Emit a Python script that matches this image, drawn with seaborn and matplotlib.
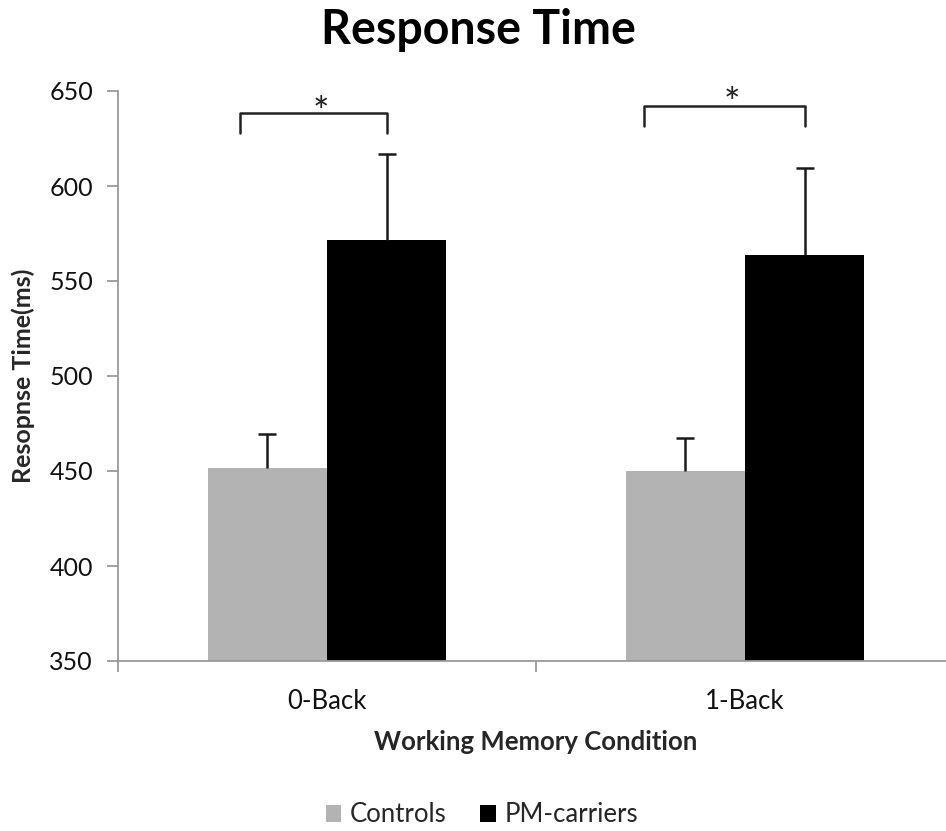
import matplotlib
matplotlib.use("Agg")
import matplotlib.pyplot as plt
import seaborn as sns
import pandas as pd
import numpy as np

conditions = ["0-Back", "1-Back"]
groups = ["Controls", "PM-carriers"]
controls_rt = [451.6, 450.0]
pm_rt = [571.6, 563.7]
controls_se = [17.9, 17.4]
pm_se = [45.2, 45.8]
group_colors = ["#b3b3b3", "#000000"]

df = pd.DataFrame({
    "Condition": conditions * 2,
    "Group": [groups[0]] * 2 + [groups[1]] * 2,
    "RT": controls_rt + pm_rt,
    "SE": controls_se + pm_se,
})

sns.set_style("white")
plt.rcParams["font.family"] = ["Lato", "DejaVu Sans"]

fig = plt.figure(figsize=(9.46, 8.31), dpi=100)
ax = fig.add_axes([118 / 946, 1 - 661 / 831, 836 / 946, 570 / 831])

sns.barplot(data=df, x="Condition", y="RT", hue="Group", hue_order=groups,
            order=conditions, palette=group_colors, width=0.57,
            errorbar=None, linewidth=0, ax=ax)

# upper-only error bars placed at the bar centres
for container, grp in zip(ax.containers, groups):
    sub = df[df["Group"] == grp].set_index("Condition").loc[conditions]
    xs = [p.get_x() + p.get_width() / 2 for p in container.patches]
    eb = ax.errorbar(xs, sub["RT"].values,
                     yerr=[np.zeros(len(xs)), sub["SE"].values],
                     fmt="none", ecolor="#1a1a1a", elinewidth=1.8,
                     capsize=6.5, capthick=1.8)
    # hide the lower caps (sitting on the bar tops)
    caps = eb.lines[1]
    if len(caps) >= 1:
        caps[0].set_visible(False)

ax.set_ylim(350, 650)
ax.set_xlim(-0.5, 1.5)
ax.set_yticks(np.arange(350, 651, 50))

spine_col = "#9a9a9a"
for s in ["top", "right"]:
    ax.spines[s].set_visible(False)
for s in ["left", "bottom"]:
    ax.spines[s].set_color(spine_col)
    ax.spines[s].set_linewidth(1.3)

ax.tick_params(axis="y", which="major", left=True, length=8, width=1.3,
               color=spine_col, labelsize=18, pad=10, labelcolor="#111111")
ax.tick_params(axis="x", which="major", bottom=False, length=0,
               labelsize=18.5, pad=20, labelcolor="#111111")
ax.set_xticks([-0.5, 0.5, 1.5], minor=True)
ax.tick_params(axis="x", which="minor", bottom=True, length=8, width=1.3,
               color=spine_col)

ax.set_xlabel("Working Memory Condition", fontsize=18.5, fontweight="bold",
              labelpad=12)
ax.set_ylabel("Resopnse Time(ms)", fontsize=18, fontweight="bold",
              labelpad=10)

fig.text(478 / 946, 1 - 30 / 831, "Response Time", fontsize=33.5,
         fontweight="bold", ha="center", va="center", color="#000000")

# significance brackets: (left x, right x, top y, bottom y, star x, star baseline y)
brackets = [(-0.208, 0.1425, 638.4, 627.9, -0.014, 632.0),
            (0.758, 1.1425, 642.1, 631.6, 0.969, 636.8)]
for x0, x1, ytop, ybot, xstar, ystar in brackets:
    ax.plot([x0, x0, x1, x1], [ybot, ytop, ytop, ybot], color="#222222",
            lw=1.8, clip_on=False, solid_joinstyle="round")
    ax.text(xstar, ystar, "*", ha="center", va="baseline",
            fontsize=28, color="#222222", clip_on=False)

sns.move_legend(ax, "center", bbox_to_anchor=(482 / 946, 1 - 815 / 831),
                bbox_transform=fig.transFigure, ncol=2, frameon=False,
                title=None, fontsize=18.5, handlelength=0.6, handleheight=0.6,
                handletextpad=0.35, columnspacing=1.3, borderpad=0)

fig.savefig("out.png", dpi=100)
